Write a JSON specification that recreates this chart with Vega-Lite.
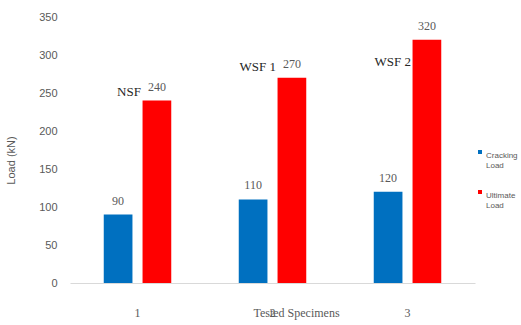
{
  "$schema": "https://vega.github.io/schema/vega-lite/v6.json",
  "width": 405,
  "height": 266,
  "autosize": "none",
  "padding": {"left": 70, "top": 17, "right": 46, "bottom": 42},
  "background": "white",
  "config": {
    "view": {"stroke": null},
    "axis": {"labelOverlap": false, "labelBound": false, "labelFlush": false},
    "axisQuantitative": {"labelOverlap": false, "tickCount": 8},
    "axisY": {"labelOverlap": false}
  },
  "datasets": {
    "loads": [
      {"specimen": "1", "type": "Cracking Load", "load": 90},
      {"specimen": "1", "type": "Ultimate Load", "load": 240},
      {"specimen": "2", "type": "Cracking Load", "load": 110},
      {"specimen": "2", "type": "Ultimate Load", "load": 270},
      {"specimen": "3", "type": "Cracking Load", "load": 120},
      {"specimen": "3", "type": "Ultimate Load", "load": 320}
    ],
    "notes": [
      {"specimen": "1", "type": "Ultimate Load", "note": "NSF", "load": 251},
      {"specimen": "2", "type": "Ultimate Load", "note": "WSF 1", "load": 284},
      {"specimen": "3", "type": "Ultimate Load", "note": "WSF 2", "load": 291}
    ]
  },
  "encoding": {
    "x": {
      "field": "specimen",
      "type": "nominal",
      "scale": {"paddingInner": 0.5, "paddingOuter": 0.25},
      "axis": {
        "title": "Tested Specimens",
        "titleFont": "Liberation Serif",
        "titleFontSize": 12,
        "titleFontWeight": "normal",
        "titleColor": "#595959",
        "titleBaseline": "middle",
        "titleX": 226,
        "titleY": 29,
        "labelAngle": 0,
        "labelFont": "Liberation Serif",
        "labelFontSize": 12,
        "labelColor": "#595959",
        "labelBaseline": "middle",
        "labelPadding": 29,
        "ticks": false,
        "domainColor": "#d9d9d9",
        "domainWidth": 1
      }
    },
    "xOffset": {
      "field": "type",
      "type": "nominal",
      "scale": {"paddingInner": 0.26, "paddingOuter": 0}
    },
    "y": {
      "field": "load",
      "type": "quantitative",
      "scale": {"domain": [0, 350], "nice": false},
      "axis": {
        "title": "Load (kN)",
        "values": [0, 50, 100, 150, 200, 250, 300, 350],
        "labelOverlap": false,
        "labelFont": "Liberation Sans",
        "labelFontSize": 11,
        "labelColor": "#595959",
        "labelPadding": 13,
        "labelBaseline": "middle",
        "ticks": false,
        "domain": false,
        "grid": false,
        "titleFont": "Liberation Sans",
        "titleFontSize": 11,
        "titleFontWeight": "normal",
        "titleColor": "#595959",
        "titleX": -54,
        "titleY": 143
      }
    }
  },
  "layer": [
    {
      "data": {"name": "loads"},
      "mark": {"type": "bar"},
      "encoding": {
        "color": {
          "field": "type",
          "type": "nominal",
          "scale": {"domain": ["Cracking Load", "Ultimate Load"], "range": ["#0070C0", "#FF0000"]},
          "legend": {
            "title": null,
            "orient": "none",
            "legendX": 406,
            "legendY": 131,
            "symbolType": "square",
            "symbolSize": 16,
            "symbolStrokeWidth": 0,
            "labelFont": "Liberation Sans",
            "labelFontSize": 8,
            "labelColor": "#595959",
            "labelExpr": "split(datum.label, ' ')",
            "labelBaseline": "top",
            "labelOffset": 2,
            "rowPadding": 18
          }
        }
      }
    },
    {
      "data": {"name": "loads"},
      "mark": {"type": "text", "baseline": "middle", "dy": -14, "font": "Liberation Serif", "fontSize": 12, "color": "#595959"},
      "encoding": {
        "text": {"field": "load", "type": "quantitative"}
      }
    },
    {
      "data": {"name": "notes"},
      "mark": {"type": "text", "baseline": "middle", "align": "right", "dx": -16, "font": "Liberation Serif", "fontSize": 13, "color": "#262626"},
      "encoding": {
        "text": {"field": "note", "type": "nominal"}
      }
    }
  ]
}
